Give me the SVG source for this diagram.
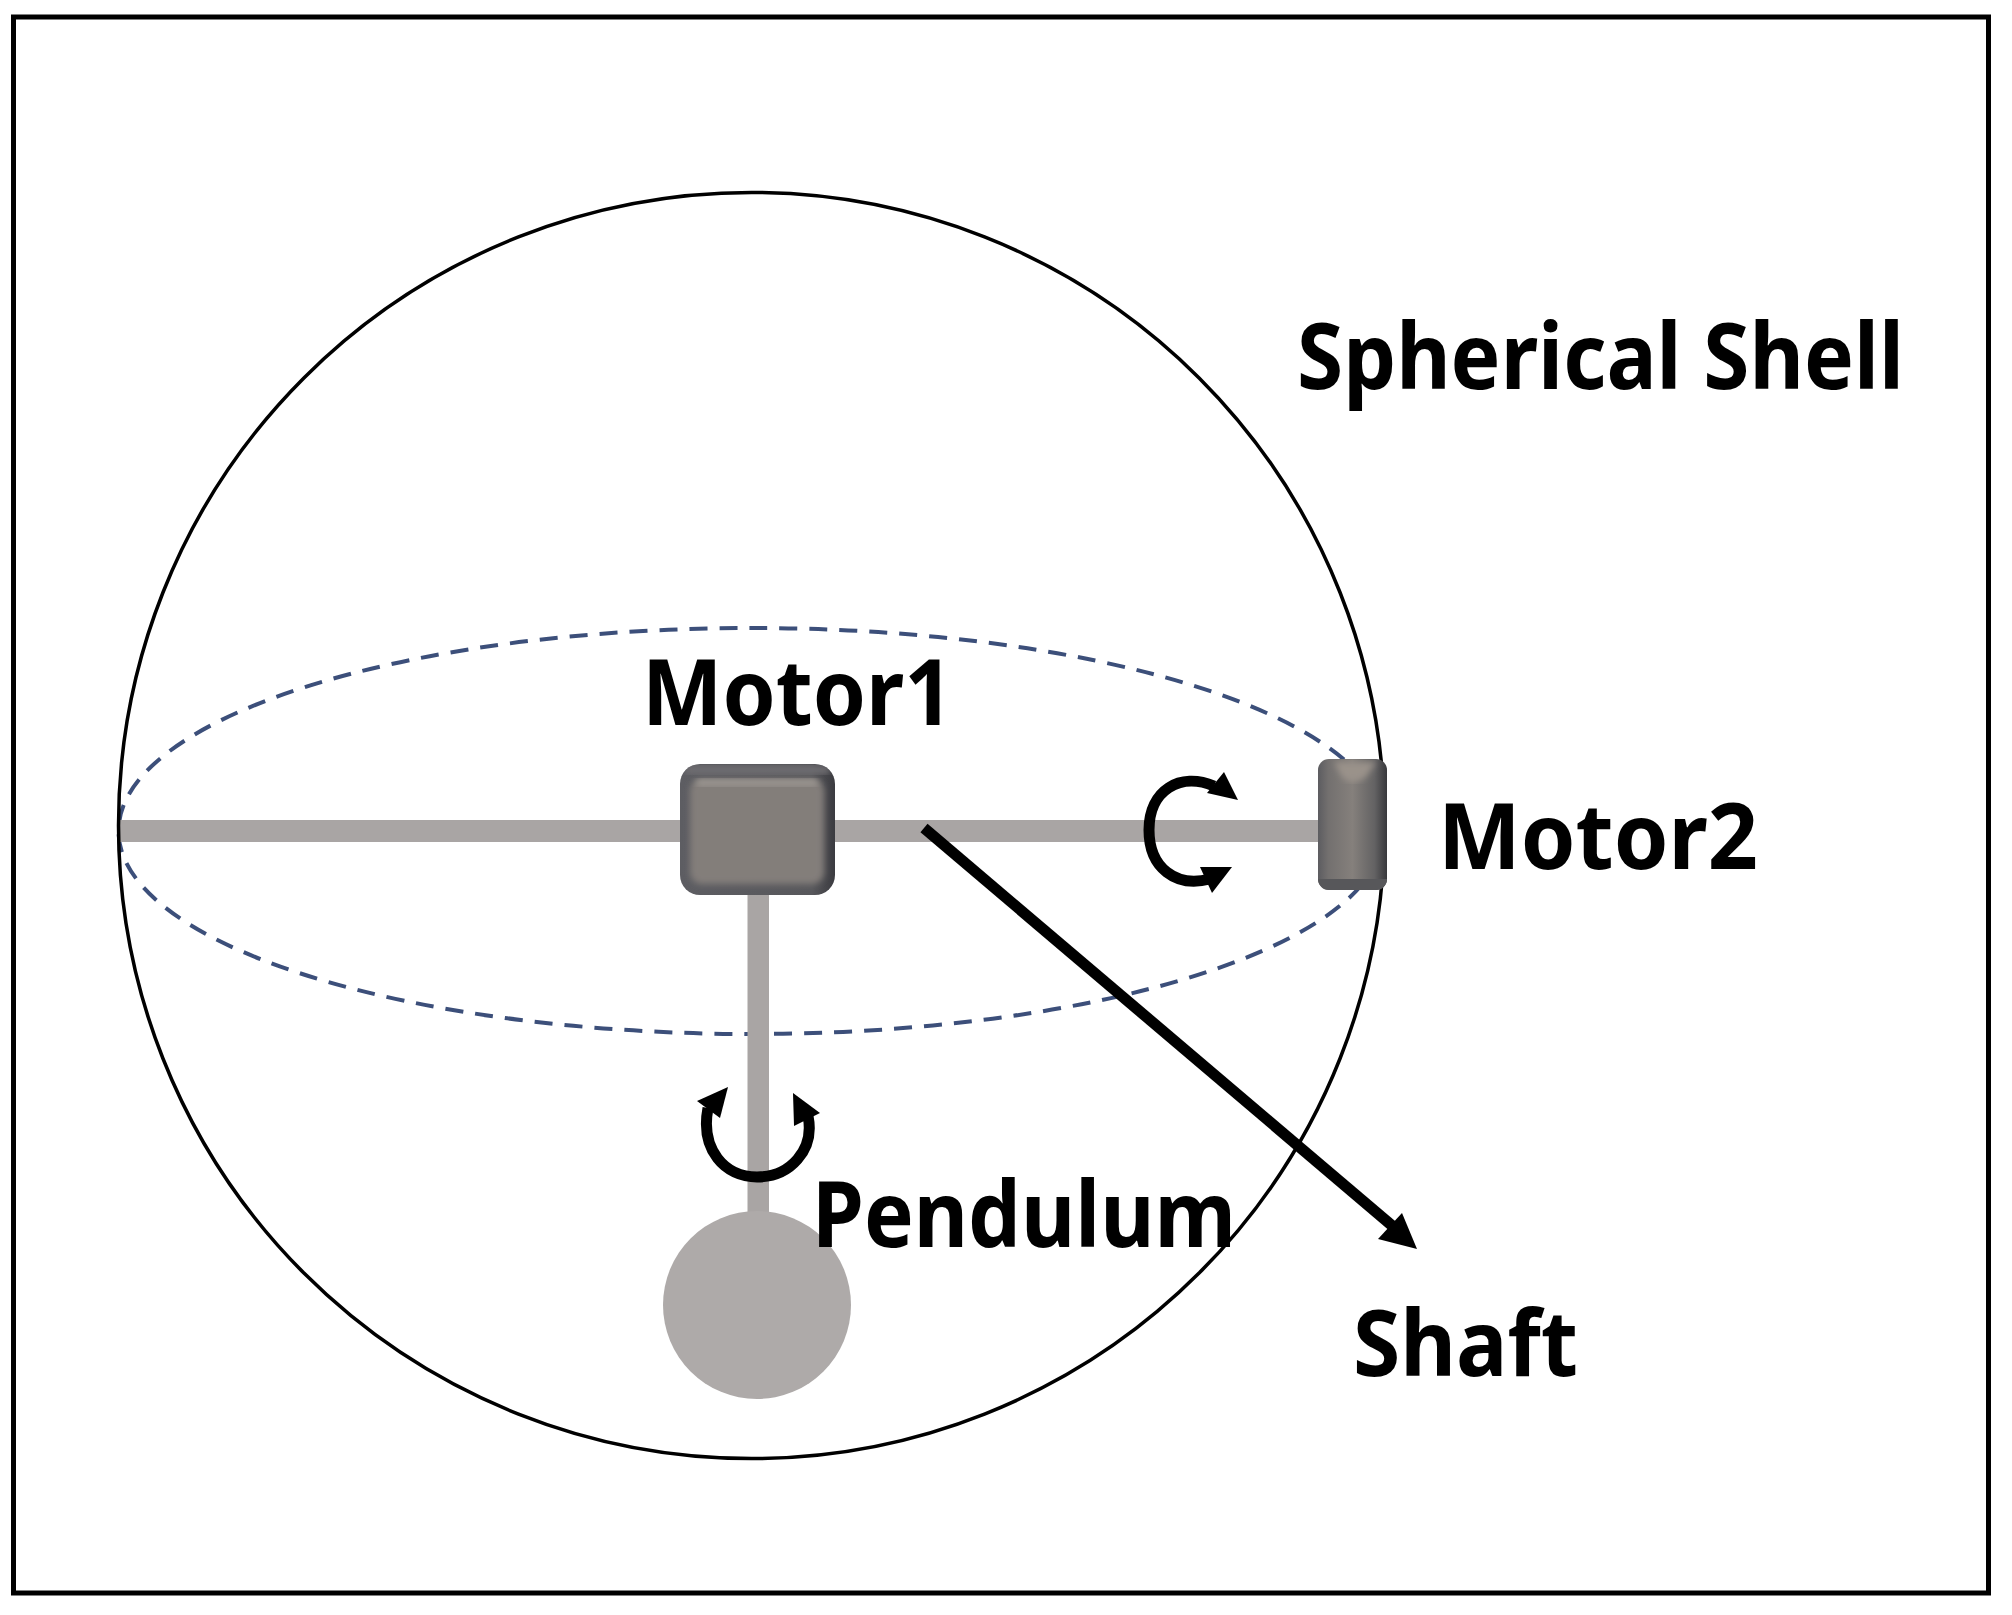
<svg xmlns="http://www.w3.org/2000/svg" width="2012" height="1615" viewBox="0 0 2012 1615">
<style>
text{font-family:"Noto Sans","Liberation Sans",sans-serif;font-weight:700;font-size:91px;fill:#000}
.shaft{fill:#a9a5a4}
.curl{fill:none;stroke:#000;stroke-width:11}
</style>
<defs>
<filter id="soft" x="-10%" y="-10%" width="120%" height="120%"><feGaussianBlur stdDeviation="3"/></filter>
<linearGradient id="rim" x1="0" y1="0" x2="1" y2="0">
<stop offset="0" stop-color="#5d5d62"/><stop offset=".85" stop-color="#58585c"/><stop offset="1" stop-color="#3b3b40"/>
</linearGradient>
<linearGradient id="m2H" x1="0" y1="0" x2="1" y2="0">
<stop offset="0" stop-color="#5c5c60"/><stop offset=".15" stop-color="#73706f"/><stop offset=".5" stop-color="#85807c"/><stop offset=".82" stop-color="#636263"/><stop offset="1" stop-color="#38383c"/>
</linearGradient>
<clipPath id="m1clip"><rect x="680" y="764" width="155" height="131" rx="20"/></clipPath>
<clipPath id="m2clip"><rect x="1318" y="759" width="69" height="131" rx="11"/></clipPath>
</defs>
<rect id="frame" x="13.500" y="17" width="1975" height="1576" fill="#fff" stroke="#000" stroke-width="5"/>
<g id="connectors">
<ellipse cx="751.500" cy="831" rx="633" ry="203" fill="none" stroke="#3c4f7a" stroke-width="4" stroke-dasharray="18 12"/>
<rect class="shaft" x="118" y="820" width="1205" height="22"/>
<rect class="shaft" x="747.500" y="890" width="21.500" height="325"/>
<path d="M924 828L1396 1229" fill="none" stroke="#000" stroke-width="11"/>
<path d="M1417 1249L1402 1213L1378 1239Z"/>
<path class="curl" d="M1214 786C1180 772 1149 790 1149 830C1149 868 1176 888 1210 879"/>
<path d="M1238 800L1224 772L1207 793Z"/>
<path d="M1212 893L1200 867L1232 867Z"/>
<path class="curl" d="M708 1108C700 1150 725 1177 757 1177C790 1177 815 1150 808 1116"/>
<path d="M728 1087L697 1101L720 1118Z"/>
<path d="M820 1113L793 1093L794 1126Z"/>
</g>
<g id="spherical-shell">
<circle cx="751.500" cy="825.500" r="633" fill="none" stroke="#000" stroke-width="3.500"/>
<text x="1297" y="389" textLength="607" lengthAdjust="spacingAndGlyphs">Spherical Shell</text>
</g>
<g id="motor1">
<rect x="680" y="764" width="155" height="131" rx="20" fill="url(#rim)"/>
<g clip-path="url(#m1clip)">
<rect x="690" y="779" width="134" height="105" rx="12" fill="#837e7a" filter="url(#soft)"/>
<rect x="696" y="779" width="122" height="7" rx="3" fill="#9c9792" filter="url(#soft)"/>
<rect x="684" y="766" width="146" height="8" rx="4" fill="#6f6e72" filter="url(#soft)"/>
</g>
<text x="642" y="725" textLength="311" lengthAdjust="spacingAndGlyphs">Motor1</text>
</g>
<g id="motor2">
<rect x="1318" y="759" width="69" height="131" rx="11" fill="url(#m2H)"/>
<g clip-path="url(#m2clip)">
<path d="M1334 762L1376 762L1366 777Q1352 787 1342 777Z" fill="#9a928a" filter="url(#soft)"/>
<rect x="1318" y="879" width="69" height="11" fill="#57575a"/>
</g>
<text x="1438" y="869" textLength="320" lengthAdjust="spacingAndGlyphs">Motor2</text>
</g>
<g id="pendulum">
<circle cx="757" cy="1305" r="94" fill="#aeaaa9"/>
<text x="812" y="1247" textLength="424" lengthAdjust="spacingAndGlyphs">Pendulum</text>
</g>
<g id="shaft">
<text x="1353" y="1376" textLength="225" lengthAdjust="spacingAndGlyphs">Shaft</text>
</g>
</svg>
